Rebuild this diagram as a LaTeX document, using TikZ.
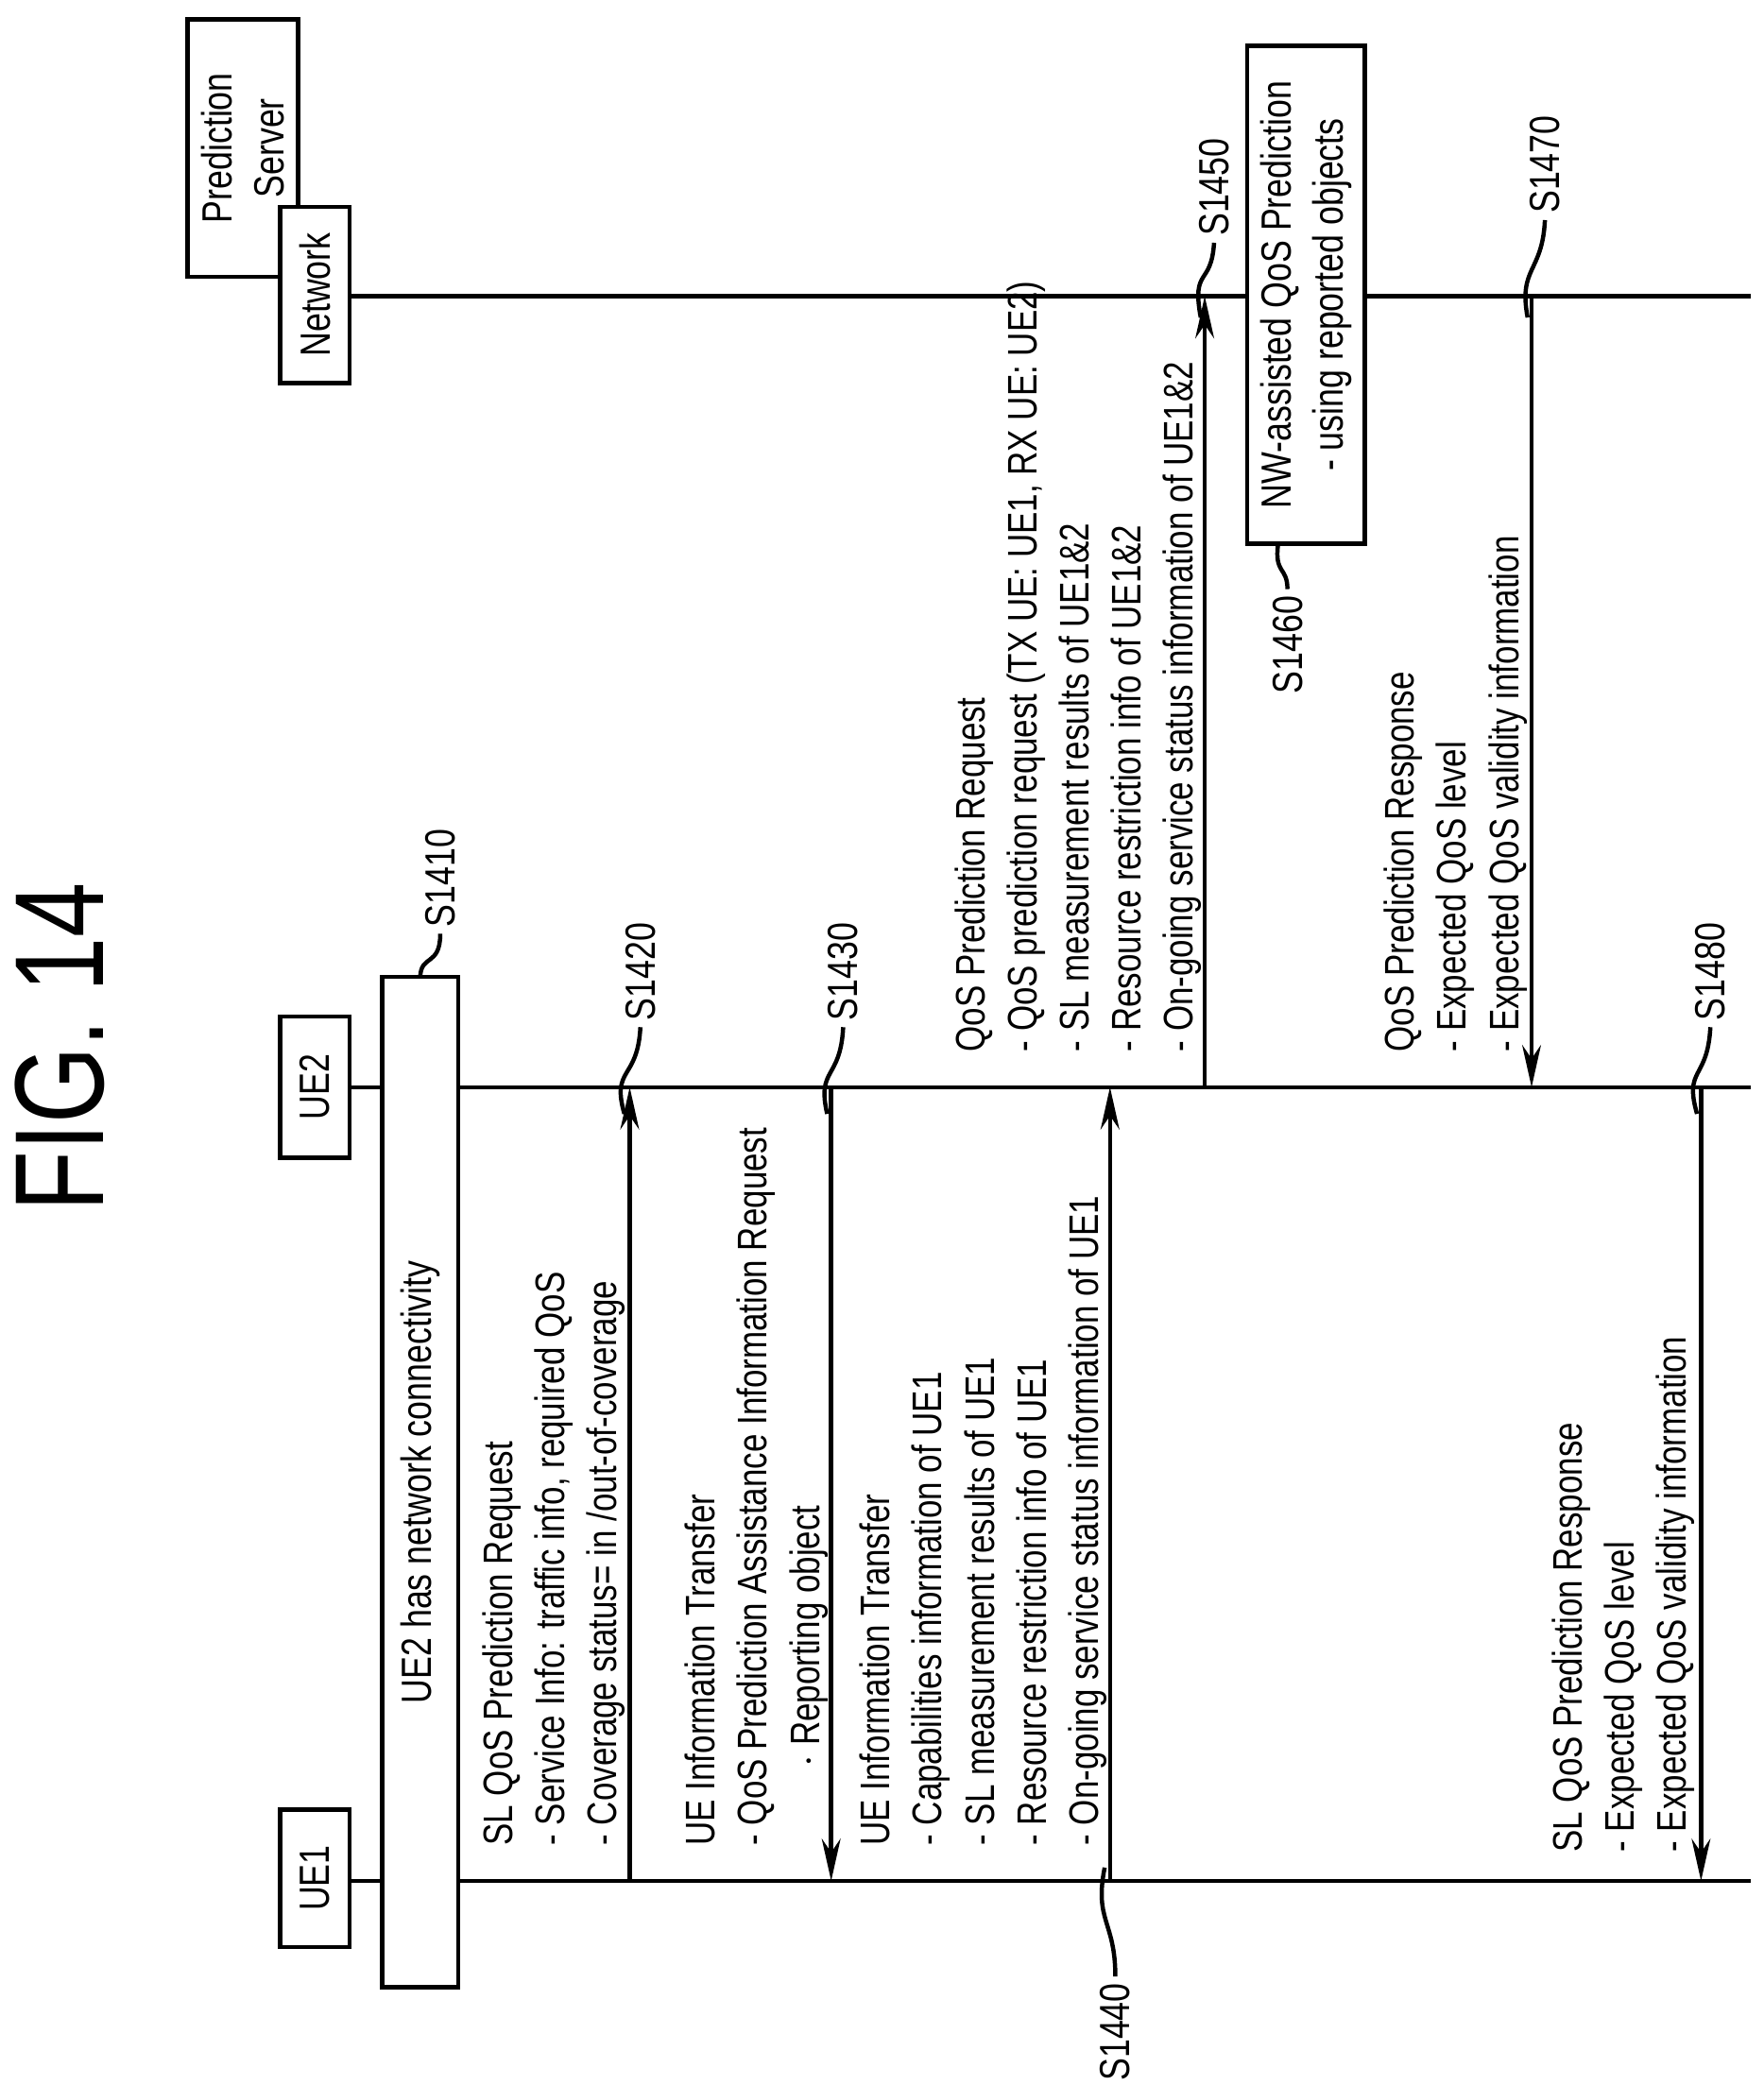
\documentclass[tikz,border=0pt]{standalone}
\usepackage{fontspec}
\setmainfont{Liberation Sans}[FakeStretch=0.8]
\newfontfamily\titlefont{Liberation Sans}[FakeStretch=0.78]
\usetikzlibrary{arrows.meta}
\begin{document}
\begin{tikzpicture}[x=0.01cm,y=-0.01cm,line width=0.9pt,
  msg/.style={rotate=90,anchor=north west,inner sep=0pt,align=left,font=\fontsize{8.8}{11.1}\selectfont},
  lbl/.style={rotate=90,anchor=west,inner sep=1pt,font=\fontsize{9}{11}\selectfont},
  ent/.style={draw,fill=white,rotate=90,inner sep=0pt,align=center,font=\fontsize{9}{11}\selectfont},
  arr/.style={-{Stealth[length=9pt,width=4pt]}}]
\useasboundingbox (0,0) rectangle (1322,1563);
\node[rotate=90,font=\titlefont\fontsize{27}{30}\selectfont] (title) at (45,785) {FIG. 14};
% lifelines
\coordinate (l1a) at (262,1410); \coordinate (l1b) at (1312,1410);
\coordinate (l2a) at (262,815); \coordinate (l2b) at (1312,815);
\coordinate (lna) at (262,222); \coordinate (lnb) at (1312,222);
\draw (l1a) -- (l1b); \draw (l2a) -- (l2b); \draw (lna) -- (lnb);
\node[ent,minimum width=1.03cm,minimum height=0.52cm] (ue1) at (236,1408) {UE1};
\node[ent,minimum width=1.06cm,minimum height=0.52cm] (ue2) at (236,815) {UE2};
\node[ent,minimum width=1.93cm,minimum height=0.83cm] (ps) at (182,111) {Prediction\\Server};
\node[ent,minimum width=1.32cm,minimum height=0.52cm] (nw) at (236,221) {Network};
\node[ent,minimum width=7.57cm,minimum height=0.57cm] (conn) at (315,1111) {UE2 has network connectivity};
\node[ent,minimum width=3.73cm,minimum height=0.88cm] (nwp) at (979,221) {NW-assisted QoS Prediction\\- using reported objects};
% message lines
\coordinate (a1s) at (472,1410); \coordinate (a1e) at (472,815);
\coordinate (a2s) at (623,815); \coordinate (a2e) at (623,1410);
\coordinate (a3s) at (832,1410); \coordinate (a3e) at (832,815);
\coordinate (a4s) at (903,815); \coordinate (a4e) at (903,222);
\coordinate (a5s) at (1148,222); \coordinate (a5e) at (1148,815);
\coordinate (a6s) at (1275,815); \coordinate (a6e) at (1275,1410);
\draw[arr] (a1s) -- (a1e); \draw[arr] (a2s) -- (a2e); \draw[arr] (a3s) -- (a3e);
\draw[arr] (a4s) -- (a4e); \draw[arr] (a5s) -- (a5e); \draw[arr] (a6s) -- (a6e);
% texts
\node[msg] (t1) at (360,1385) {SL QoS Prediction Request\\- Service Info: traffic info, required QoS\\- Coverage status= in /out-of-coverage};
\node[msg] (t2) at (512,1385) {UE Information Transfer\\- QoS Prediction Assistance Information Request\\\hspace*{1.9em}$\cdot$ Reporting object};
\node[msg] (t3) at (643,1385) {UE Information Transfer\\- Capabilities information of UE1\\- SL measurement results of UE1\\- Resource restriction info of UE1\\- On-going service status information of UE1};
\node[msg] (t4) at (714,790) {QoS Prediction Request\\- QoS prediction request (TX UE: UE1, RX UE: UE2)\\- SL measurement results of UE1\&2\\- Resource restriction info of UE1\&2\\- On-going service status information of UE1\&2};
\node[msg] (t5) at (1036,790) {QoS Prediction Response\\- Expected QoS level\\- Expected QoS validity information};
\node[msg] (t6) at (1162,1390) {SL QoS Prediction Response\\- Expected QoS level\\- Expected QoS validity information};
% step labels
\node[lbl] (s1410) at (330,700) {S1410};
\draw (s1410.west) .. controls (330,725) and (315,715) .. (315,733);
\node[lbl] (s1420) at (480,770) {S1420};
\draw (s1420.west) .. controls (478,810) and (458,800) .. (468,835);
\node[lbl] (s1430) at (632,770) {S1430};
\draw (s1430.west) .. controls (630,810) and (612,800) .. (620,835);
\node[lbl] (s1440) at (836,1565) {S1440};
\draw (s1440.east) .. controls (836,1440) and (820,1440) .. (828,1400);
\node[lbl] (s1450) at (910,182) {S1450};
\draw (s1450.west) .. controls (908,215) and (893,200) .. (900,238);
\node[lbl] (s1460) at (965,525) {S1460};
\draw (s1460.east) .. controls (965,425) and (955,430) .. (958,408);
\node[lbl] (s1470) at (1158,165) {S1470};
\draw (s1470.west) .. controls (1156,205) and (1138,200) .. (1145,238);
\node[lbl] (s1480) at (1282,770) {S1480};
\draw (s1480.west) .. controls (1280,810) and (1262,800) .. (1272,835);
\end{tikzpicture}
\end{document}
